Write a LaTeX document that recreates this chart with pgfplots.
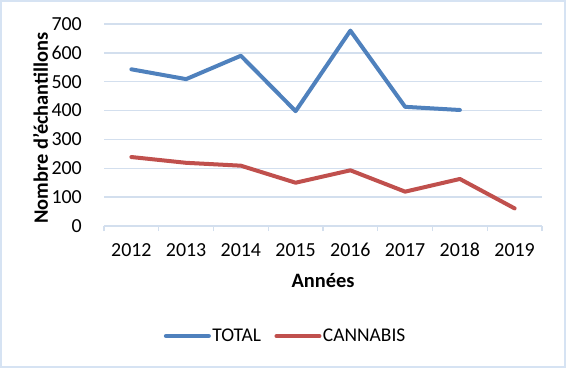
\documentclass[border=0pt]{standalone}
\usepackage{fontspec}
\setmainfont{Carlito}
\usepackage{pgfplots}
\pgfplotsset{compat=1.18}
\definecolor{bordercol}{HTML}{D6E3F3}
\definecolor{gridcol}{HTML}{D3DFEE}
\definecolor{tblue}{HTML}{4F81BD}
\definecolor{cred}{HTML}{C0504D}
\begin{document}
\begin{tikzpicture}[x=1bp,y=1bp]
\path[use as bounding box] (0,0) rectangle (566,368);
\draw[bordercol, line width=2bp] (1,1) rectangle (565,367);
\begin{axis}[
  at={(104bp,142bp)}, anchor=south west,
  scale only axis, width=438bp, height=202bp,
  xmin=-0.5, xmax=7.5, ymin=0, ymax=700,
  ytick={0,100,...,700},
  xtick={-0.5,0.5,...,7.5}, xticklabels={},
  extra x ticks={0,1,2,3,4,5,6,7},
  extra x tick labels={2012,2013,2014,2015,2016,2017,2018,2019},
  extra x tick style={major tick length=0pt, grid=none},
  ymajorgrids, grid style={gridcol, line width=1.3bp},
  axis x line*=bottom, axis y line*=left,
  x axis line style={gridcol, line width=1.3bp, -},
  y axis line style={draw=none},
  ytick style={draw=none},
  xtick style={gridcol, line width=1.3bp},
  tick align=outside, major tick length=5bp,
  /pgf/number format/assume math mode=true,
  ticklabel style={font=\fontsize{20}{24}\selectfont, text=black},
  yticklabel style={anchor=east, inner sep=0pt, xshift=-17bp},
  xticklabel style={anchor=north, inner sep=0pt, yshift=-17bp},
  xlabel={\textbf{Années}},
  xlabel style={at={(axis description cs:0.5,-0.302)}, anchor=base, font=\fontsize{20.5}{24}\selectfont},
  ylabel={\textbf{Nombre d'échantillons}},
  ylabel style={at={(axis description cs:-0.1279,0.485)}, anchor=base, font=\fontsize{20.5}{24}\selectfont},
  legend columns=2,
  legend style={at={(axis description cs:0.414,-0.545)}, anchor=center, draw=none, fill=none,
    font=\fontsize{19.5}{23}\selectfont, /tikz/every even column/.append style={column sep=12bp},
    nodes={inner sep=1.5bp}},
  legend image code/.code={\draw[#1, line width=4bp] (0bp,0bp) -- (43bp,0bp);},
  every axis plot/.append style={line width=4bp, line join=round, line cap=round},
]
\addplot[tblue, mark=none] coordinates {(0,543) (1,509) (2,590) (3,398) (4,677) (5,413) (6,402)};
\addlegendentry{TOTAL}
\addplot[cred, mark=none] coordinates {(0,239) (1,219) (2,209) (3,150) (4,193) (5,119) (6,163) (7,61)};
\addlegendentry{CANNABIS}
\end{axis}
\end{tikzpicture}
\end{document}
